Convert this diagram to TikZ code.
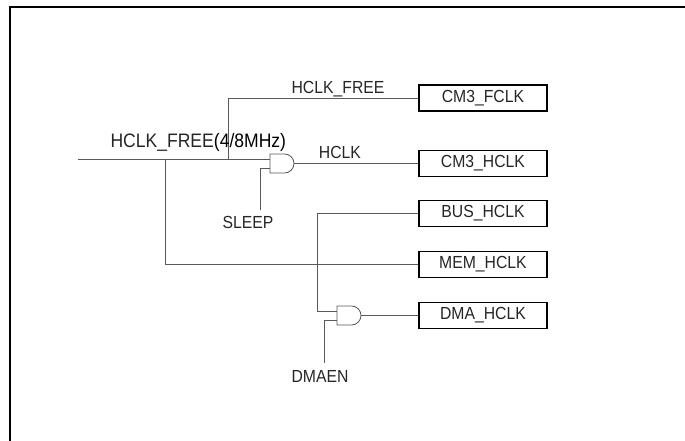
\documentclass[tikz,border=0pt]{standalone}
\usepackage{fontspec}
\setmainfont[FakeStretch=0.9]{Liberation Sans}
\usepackage{tikz}

% 与门：名字, 左边 x, 中心 y
\newcommand{\andgate}[3]{%
  \draw[gate] (#2,#3-9.5) -- (#2,#3+9.5) -- (#2+14.5,#3+9.5)
    arc[start angle=-90,end angle=90,radius=9.5pt] -- cycle;
  \coordinate (#1-in1) at (#2,#3-4.5);
  \coordinate (#1-in2) at (#2,#3+4.5);
  \coordinate (#1-out) at (#2+24,#3);
}

\tikzset{
  wire/.style={draw=black!65, line width=0.8pt},
  gate/.style={draw=black!65, line width=0.8pt},
  clkbox/.style={draw=black, line width=1.1pt, minimum width=128pt, minimum height=26pt,
    inner sep=0pt, text=black!85, font=\fontsize{17.5}{20}\selectfont},
  sig/.style={text=black!85, font=\fontsize{17.5}{20}\selectfont}
}

\begin{document}
\begin{tikzpicture}[x=1pt,y=-1pt]
\useasboundingbox (0,0) rectangle (685,441);
\draw[line width=2pt] (10,441) -- (10,7.5) -- (685,7.5); % 外框

% 右侧时钟框
\foreach \n/\t/\y in {fclk/CM3\_FCLK/98, hclk/CM3\_HCLK/163.5, bus/BUS\_HCLK/213.5,
    mem/MEM\_HCLK/264.5, dma/DMA\_HCLK/315.5} {
  \node[clkbox] (\n) at (483,\y) {\t};
}

\andgate{g1}{270}{163.5}
\andgate{g2}{337}{315.5}

\coordinate (in) at (78,159);
\coordinate (j1) at (228,159);
\coordinate (j2) at (165,159);
\coordinate (j3) at (317,213.5);
\coordinate (s) at (260,210);
\coordinate (d) at (324,363);

\draw[wire] (in) -- (g1-in1);
\draw[wire] (j1) |- (fclk.west);
\draw[wire] (j2) |- (mem.west);
\draw[wire] (g1-out) -- (hclk.west);
\draw[wire] (s) |- (g1-in2);
\draw[wire] (bus.west) -- (j3) |- (g2-in1);
\draw[wire] (d) |- (g2-in2);
\draw[wire] (g2-out) -- (dma.west);

% 信号名
\node[sig] (lfree) at (338,89) {HCLK\_FREE};
\node[sig] (lhclk) at (340,152) {HCLK};
\node[sig, font=\fontsize{19.5}{22}\selectfont, anchor=base west] (lin) at (107,147.5)
  {HCLK\_FREE{\color{black}(4/8MHz)}};
\node[sig] (sleep) at (248,222) {SLEEP};
\node[sig] (dmaen) at (320,376) {DMAEN};
\end{tikzpicture}
\end{document}
